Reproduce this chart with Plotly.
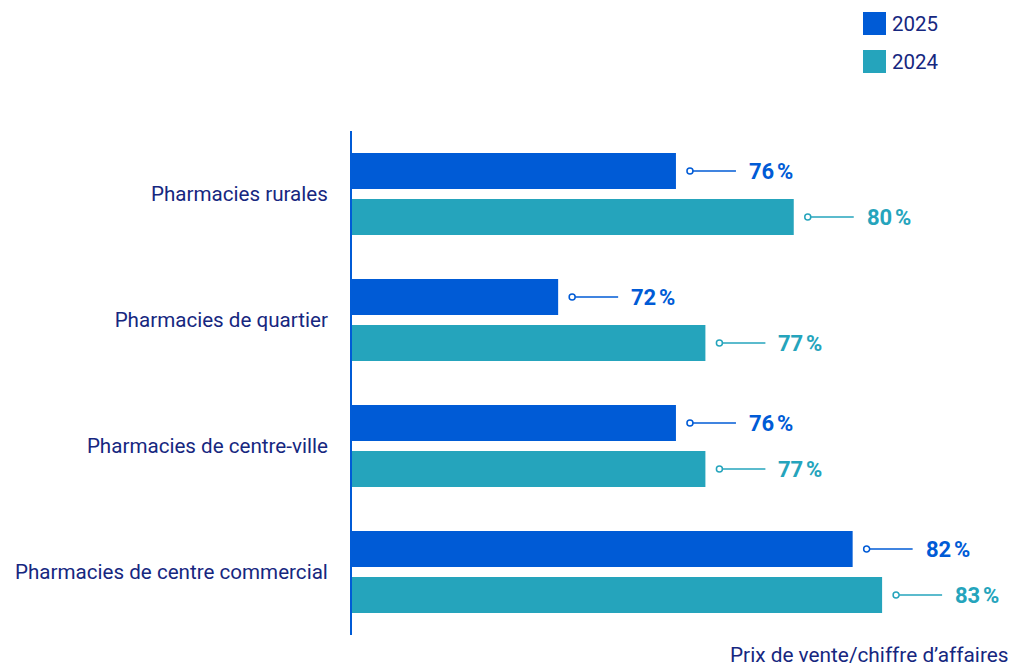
import plotly.graph_objects as go

# Data
categories = [
    "Pharmacies rurales",
    "Pharmacies de quartier",
    "Pharmacies de centre-ville",
    "Pharmacies de centre commercial",
]
values_2025 = [76, 72, 76, 82]
values_2024 = [80, 77, 77, 83]
series_names = ["2025", "2024"]

COL_2025 = "#005bd6"
COL_2024 = "#25a4bc"
NAVY = "#16277f"
FONT = "Roboto"

X_MIN = 65
PX_PER_UNIT = 29.45
PLOT_LEFT, PLOT_RIGHT = 352, 14
PLOT_TOP, PLOT_BOTTOM = 131, 32
W, H = 1014, 667
plot_w = W - PLOT_LEFT - PLOT_RIGHT
plot_h = H - PLOT_TOP - PLOT_BOTTOM
X_MAX = X_MIN + plot_w / PX_PER_UNIT

BARGAP = 0.27
BARGROUPGAP = 0.217
slot = (1 - BARGAP) / 2

fig = go.Figure()
series = [(series_names[0], values_2025, COL_2025), (series_names[1], values_2024, COL_2024)]
for name, vals, col in series:
    fig.add_trace(go.Bar(
        y=categories, x=vals, name=name, orientation="h",
        marker=dict(color=col, line=dict(width=0)),
        base=0, showlegend=False, hoverinfo="x+y",
    ))

# Value callouts: small open circle, leader line, bold label
for s_idx, (name, vals, col) in enumerate(series):
    offset = (s_idx - 0.5) * slot
    for i, v in enumerate(vals):
        yc = i + offset
        fig.add_shape(type="line", xref="x", yref="y", xsizemode="pixel", xanchor=v,
                      x0=17, x1=60, y0=yc, y1=yc, line=dict(color=col, width=1.5))
        fig.add_shape(type="circle", xref="x", yref="y", xsizemode="pixel", ysizemode="pixel",
                      xanchor=v, yanchor=yc, x0=11, x1=17, y0=-3, y1=3,
                      fillcolor="white", line=dict(color=col, width=1.5))
        fig.add_annotation(x=v, y=yc, xref="x", yref="y", xanchor="left", yanchor="middle",
                           xshift=71, showarrow=False,
                           text=f"<b>{v}\u202f%</b>",
                           font=dict(family=FONT, size=22, color=col))

# Legend drawn as swatches + labels
def py(pixel_y):
    return (H - PLOT_BOTTOM - pixel_y) / plot_h

def px(pixel_x):
    return (pixel_x - PLOT_LEFT) / plot_w

for k, (name, vals, col) in enumerate(series):
    top = 12 + k * 38
    fig.add_shape(type="rect", xref="paper", yref="paper",
                  x0=px(863), x1=px(886), y0=py(top), y1=py(top + 23),
                  fillcolor=col, line=dict(width=0))
    fig.add_annotation(xref="paper", yref="paper", x=px(890), y=py(top + 12),
                       xanchor="left", yanchor="middle", showarrow=False, text=name,
                       font=dict(family=FONT, size=20.5, color=NAVY))

# Axis title at bottom right
fig.add_annotation(xref="paper", yref="paper", x=px(W - 3), y=py(655),
                   xanchor="right", yanchor="middle", showarrow=False,
                   text="Prix de vente/chiffre d\u2019affaires",
                   font=dict(family=FONT, size=20.8, color=NAVY))

fig.update_layout(
    width=W, height=H,
    margin=dict(l=PLOT_LEFT, r=PLOT_RIGHT, t=PLOT_TOP, b=PLOT_BOTTOM, pad=0),
    paper_bgcolor="white", plot_bgcolor="white",
    barmode="group", bargap=BARGAP, bargroupgap=BARGROUPGAP,
    font=dict(family=FONT, color=NAVY),
    xaxis=dict(range=[X_MIN, X_MAX], visible=False, fixedrange=True),
    yaxis=dict(autorange="reversed", showline=True, linecolor=COL_2025, linewidth=2,
               showgrid=False, zeroline=False, ticks="", ticklabelstandoff=18,
               tickfont=dict(family=FONT, size=20.6, color=NAVY), fixedrange=True),
)

fig.write_html("out.html")
